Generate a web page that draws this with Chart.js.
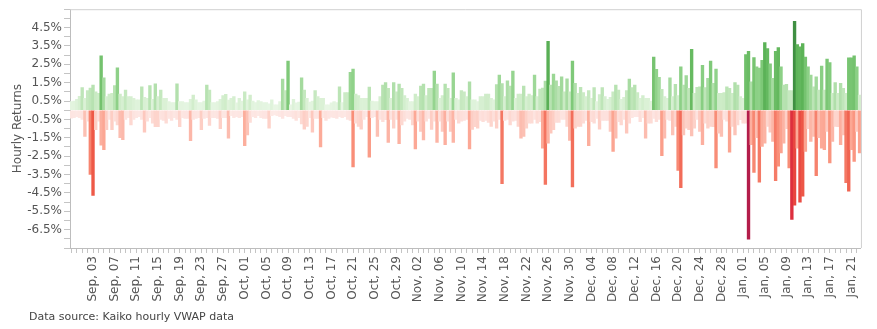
<!DOCTYPE html>
<html>
<head>
<meta charset="utf-8">
<script src="https://cdn.jsdelivr.net/npm/chart.js@4.4.1/dist/chart.umd.min.js"></script>
<style>
  html, body { margin: 0; padding: 0; background: #fff; }
</style>
</head>
<body>
<canvas id="myChart" width="877" height="329"></canvas>
<script>
// data: 12-hour buckets starting Aug 30, max positive / min negative hourly return (%)
const startDay = Date.UTC(2020, 7, 30);
const monthNames = ['Jan', 'Feb', 'Mar', 'Apr', 'May', 'Jun', 'Jul', 'Aug', 'Sep', 'Oct', 'Nov', 'Dec'];

const upReturns = [
  0.47, 0.5, 0.6, 0.75, 1.23, 0.65, 1.07, 1.2, 1.37, 1.0,
  0.92, 2.96, 1.77, 0.74, 0.88, 0.92, 1.34, 2.31, 0.88, 0.74,
  1.1, 0.74, 0.74, 0.65, 0.56, 0.56, 1.28, 0.7, 0.65, 1.34,
  0.6, 1.44, 0.74, 1.1, 0.65, 0.65, 0.47, 0.42, 0.42, 1.44,
  0.47, 0.47, 0.42, 0.42, 0.6, 0.83, 0.56, 0.42, 0.42, 0.5,
  1.37, 1.1, 0.42, 0.42, 0.47, 0.6, 0.8, 0.87, 0.55, 0.65,
  0.74, 0.4, 0.65, 0.5, 1.0, 0.56, 0.83, 0.5, 0.42, 0.52,
  0.47, 0.42, 0.42, 0.35, 0.56, 0.3, 0.3, 0.47, 1.7, 1.07,
  2.67, 0.3, 0.6, 0.4, 0.45, 1.77, 1.1, 0.65, 0.45, 0.5,
  1.07, 0.74, 0.65, 0.65, 0.3, 0.3, 0.4, 0.47, 0.42, 1.28,
  0.42, 0.96, 0.96, 2.06, 2.24, 0.88, 0.8, 0.65, 0.65, 0.65,
  1.26, 0.5, 0.47, 0.47, 0.74, 1.37, 1.5, 1.19, 0.65, 1.5,
  1.0, 1.43, 1.19, 0.8, 0.65, 0.47, 0.47, 0.88, 0.74, 1.32,
  1.43, 0.8, 1.19, 1.19, 2.13, 1.43, 0.65, 0.8, 1.43, 1.19,
  0.65, 2.04, 0.65, 0.56, 1.07, 1.0, 0.74, 1.55, 0.56, 0.56,
  0.47, 0.74, 0.74, 0.88, 0.88, 0.65, 0.56, 1.4, 1.91, 1.45,
  0.74, 1.6, 1.32, 2.13, 0.65, 0.88, 0.88, 1.32, 0.74, 0.88,
  0.8, 1.91, 0.74, 1.15, 1.2, 1.59, 3.75, 1.37, 1.97, 1.6,
  1.3, 1.82, 1.0, 1.71, 1.0, 2.67, 1.46, 0.92, 1.25, 0.96,
  0.74, 1.07, 0.65, 1.23, 0.47, 0.85, 1.23, 0.74, 0.6, 0.7,
  1.0, 1.37, 1.1, 0.6, 0.7, 1.07, 1.7, 1.23, 1.37, 0.96,
  0.65, 0.8, 0.65, 0.65, 0.5, 2.9, 2.22, 1.79, 1.14, 0.74,
  0.65, 1.77, 0.74, 1.41, 0.8, 2.36, 1.37, 1.88, 1.19, 3.32,
  0.92, 1.25, 1.28, 2.45, 1.23, 1.73, 2.67, 1.46, 2.24, 0.92,
  0.92, 0.96, 1.28, 1.19, 0.92, 1.5, 1.37, 0.74, 0.65, 3.03,
  3.21, 1.55, 2.87, 2.36, 2.3, 2.72, 3.68, 3.36, 2.53, 1.73,
  3.21, 3.41, 2.36, 1.37, 1.41, 1.07, 1.07, 4.84, 3.57, 3.45,
  3.63, 2.9, 2.36, 1.91, 1.28, 1.82, 1.1, 2.4, 1.1, 2.78,
  2.6, 0.92, 1.5, 0.92, 1.46, 1.19, 0.92, 2.85, 2.85, 2.96,
  2.36, 0.83
];

const downReturns = [
  -0.43, -0.4, -0.35, -0.4, -0.5, -1.43, -0.6, -3.5, -4.64, -1.06,
  -0.6, -1.9, -2.15, -1.06, -0.5, -1.06, -0.6, -0.8, -1.5, -1.6,
  -0.5, -0.4, -0.8, -0.5, -0.4, -0.35, -0.5, -1.2, -0.6, -0.4,
  -0.7, -0.9, -0.9, -0.5, -0.55, -0.7, -0.45, -0.55, -0.4, -0.5,
  -0.9, -0.4, -0.45, -0.45, -1.66, -0.5, -0.45, -0.4, -1.06, -0.45,
  -0.4, -0.83, -0.4, -0.4, -0.45, -1.0, -0.4, -0.4, -1.52, -0.3,
  -0.4, -0.35, -0.4, -0.35, -1.93, -1.35, -0.67, -0.35, -0.4, -0.3,
  -0.4, -0.45, -0.45, -0.97, -0.3, -0.25, -0.3, -0.35, -0.45, -0.3,
  -0.35, -0.35, -0.45, -0.56, -0.4, -0.75, -1.03, -0.88, -0.4, -1.2,
  -0.45, -0.45, -2.0, -0.4, -0.55, -0.45, -0.38, -0.4, -0.45, -0.35,
  -0.4, -0.35, -0.5, -0.55, -3.09, -0.7, -0.88, -1.03, -0.5, -0.35,
  -2.55, -0.4, -0.35, -1.43, -0.5, -0.62, -0.52, -1.75, -0.5, -0.97,
  -0.5, -1.82, -0.8, -0.6, -0.45, -0.5, -0.8, -2.11, -0.6, -1.16,
  -1.61, -0.6, -0.45, -1.05, -0.6, -1.75, -0.6, -1.16, -1.88, -0.6,
  -1.16, -1.75, -0.5, -0.7, -0.6, -0.55, -0.5, -2.11, -1.05, -0.9,
  -0.97, -0.55, -0.62, -0.55, -0.67, -0.88, -0.6, -0.97, -0.5, -4.0,
  -0.55, -0.5, -0.8, -0.6, -0.55, -0.88, -1.52, -1.43, -0.97, -0.7,
  -0.7, -0.5, -0.7, -0.62, -2.06, -4.04, -1.79, -1.25, -1.06, -0.67,
  -0.67, -0.5, -0.5, -0.88, -1.64, -4.17, -0.97, -0.88, -0.88, -0.7,
  -0.55, -1.93, -0.62, -0.7, -0.45, -1.03, -0.55, -0.55, -0.55, -1.16,
  -2.24, -1.52, -0.62, -0.8, -0.5, -1.25, -0.7, -0.4, -0.35, -0.35,
  -0.62, -0.4, -1.52, -0.7, -0.7, -0.45, -0.62, -0.5, -2.47, -1.52,
  -0.5, -0.55, -1.34, -0.88, -3.27, -4.22, -1.34, -0.97, -1.06, -1.4,
  -0.97, -0.5, -1.16, -1.88, -0.7, -0.97, -0.88, -0.9, -3.14, -1.25,
  -1.43, -0.5, -0.6, -2.28, -0.88, -1.34, -0.8, -0.52, -0.7, -0.7,
  -7.02, -1.88, -3.38, -1.5, -3.92, -1.97, -1.79, -0.88, -1.2, -1.7,
  -3.83, -3.05, -2.33, -1.79, -1.0, -3.14, -5.94, -5.17, -2.06, -5.0,
  -4.68, -2.24, -1.0, -1.7, -1.43, -3.56, -1.5, -2.06, -2.15, -1.16,
  -2.87, -1.7, -0.88, -0.9, -1.88, -1.34, -3.95, -4.4, -2.15, -2.78,
  -1.16, -2.33
];

// one label per 12h bucket, "Sep, 03" style
const dateLabels = upReturns.map((v, i) => {
  const d = new Date(startDay + Math.floor(i / 2) * 86400000);
  return monthNames[d.getUTCMonth()] + ', ' + String(d.getUTCDate()).padStart(2, '0');
});

const yTickValues = [];
for (let k = -15; k <= 11; k++) yTickValues.push(k / 2);

const footerText = 'Data source: Kaiko hourly VWAP data';
const axisFont = '"DejaVu Sans", sans-serif';

// colour ramps by magnitude
const greenStops = [[0, '#f0f9ee'], [0.5, '#e2f4de'], [1.0, '#c9eac3'], [1.5, '#b0dfaa'], [2.0, '#9ad694'],
  [2.5, '#86cd80'], [3.0, '#72c16c'], [3.6, '#5db458'], [4.8, '#3f8f42']];
const redStops = [[0, '#fdf1ef'], [0.5, '#fde3df'], [1.0, '#fdd0c7'], [1.5, '#fcbdb0'], [2.0, '#fcab99'],
  [3.0, '#f9907a'], [4.0, '#f47763'], [4.6, '#ee5a48'], [5.5, '#e53a3c'], [6.0, '#dc2d3e'], [7.0, '#b31d4a']];

function hexToRgb(h) {
  return [parseInt(h.slice(1, 3), 16), parseInt(h.slice(3, 5), 16), parseInt(h.slice(5, 7), 16)];
}

function rampColor(stops, v) {
  if (v <= stops[0][0]) return stops[0][1];
  for (let i = 1; i < stops.length; i++) {
    if (v <= stops[i][0]) {
      const t = (v - stops[i - 1][0]) / (stops[i][0] - stops[i - 1][0]);
      const a = hexToRgb(stops[i - 1][1]), b = hexToRgb(stops[i][1]);
      const c = a.map((x, j) => Math.round(x + (b[j] - x) * t));
      return `rgb(${c[0]}, ${c[1]}, ${c[2]})`;
    }
  }
  return stops[stops.length - 1][1];
}

function colorFromRaw(ctx) {
  const v = ctx.raw;
  if (v === undefined || v === null) return 'transparent';
  return v >= 0 ? rampColor(greenStops, v) : rampColor(redStops, -v);
}

// frame round the plot + footer note
const framePlugin = {
  id: 'frame',
  afterDraw(chart) {
    const {ctx, chartArea} = chart;
    ctx.save();
    ctx.strokeStyle = '#d0d0d0';
    ctx.lineWidth = 1;
    ctx.beginPath();
    ctx.moveTo(chartArea.left, chartArea.top + 0.5);
    ctx.lineTo(chartArea.right + 0.5, chartArea.top + 0.5);
    ctx.lineTo(chartArea.right + 0.5, chartArea.bottom);
    ctx.stroke();
    ctx.font = '11px ' + axisFont;
    ctx.fillStyle = '#444';
    ctx.textBaseline = 'alphabetic';
    ctx.fillText(footerText, 29, 320);
    ctx.restore();
  }
};

const data = {
  labels: dateLabels,
  datasets: [
    {
      label: 'Up',
      data: upReturns,
      backgroundColor: (ctx) => colorFromRaw(ctx),
      borderWidth: 0,
      barPercentage: 1,
      categoryPercentage: 1
    },
    {
      label: 'Down',
      data: downReturns,
      backgroundColor: (ctx) => colorFromRaw(ctx),
      borderWidth: 0,
      barPercentage: 1,
      categoryPercentage: 1
    }
  ]
};

const config = {
  type: 'bar',
  data,
  options: {
    responsive: false,
    animation: false,
    layout: { padding: { top: 8, right: 14, bottom: 0, left: 0 } },
    plugins: {
      legend: { display: false },
      tooltip: { enabled: false }
    },
    scales: {
      x: {
        stacked: true,
        offset: true,
        grid: {
          drawOnChartArea: false,
          offset: false,
          tickLength: 5,
          color: (ctx) => (ctx.index % 2 ? 'rgba(0,0,0,0)' : '#c4c4c4')
        },
        border: { color: '#bdbdbd' },
        ticks: {
          autoSkip: false,
          maxRotation: 90,
          minRotation: 90,
          padding: 3,
          color: '#555',
          font: { family: axisFont, size: 12 },
          callback: (value, index) => {
            if (index % 2 !== 0) return '';
            const day = index / 2;
            if (day === 0 || day % 4 !== 0) return '';
            return dateLabels[index];
          }
        },
        afterFit: (scale) => { scale.height = 81; }
      },
      y: {
        min: -7.5,
        max: 5.5,
        afterBuildTicks: (scale) => { scale.ticks = yTickValues.map(v => ({ value: v })); },
        grid: { drawOnChartArea: false, tickLength: 6, color: '#c4c4c4' },
        border: { color: '#bdbdbd' },
        ticks: {
          autoSkip: false,
          padding: 2,
          color: '#555',
          font: { family: axisFont, size: 12 },
          callback: (value) => {
            const k = Math.round(value * 2);
            if (Math.abs(k) % 2 !== 1 || value > 5 || value < -7) return '';
            return value.toFixed(1) + '%';
          }
        },
        title: {
          display: true,
          text: 'Hourly Returns',
          color: '#555',
          font: { family: axisFont, size: 12 },
          padding: { top: 11, bottom: 0 }
        },
        afterFit: (scale) => { scale.width = 70; }
      }
    }
  },
  plugins: [framePlugin]
};

const myChart = new Chart(document.getElementById('myChart'), config);
</script>
</body>
</html>
